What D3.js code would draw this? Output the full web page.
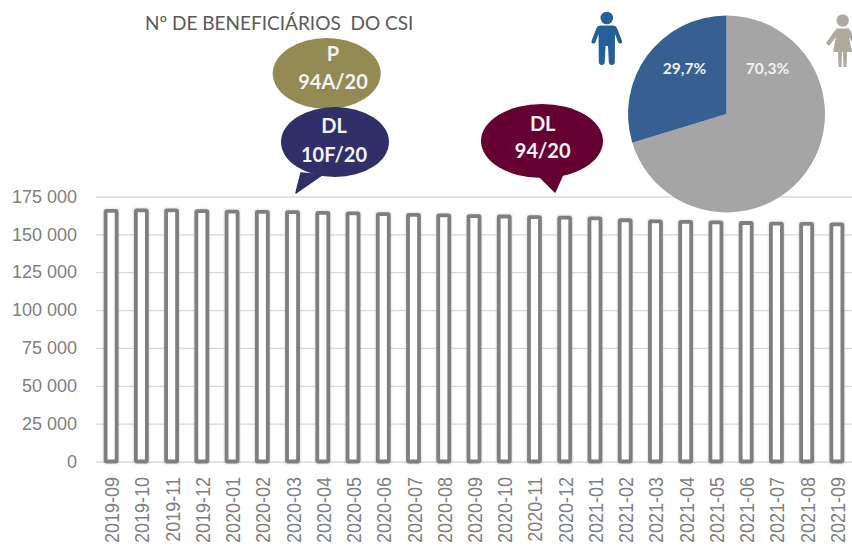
<!DOCTYPE html>
<html><head><meta charset="utf-8">
<script src="https://cdn.jsdelivr.net/npm/d3@7"></script>
<style>html,body{margin:0;padding:0;background:#fff}svg{display:block}</style>
</head><body><svg id="c" width="852" height="551"></svg>
<script>
const months=["2019-09","2019-10","2019-11","2019-12","2020-01","2020-02","2020-03","2020-04","2020-05","2020-06","2020-07","2020-08","2020-09","2020-10","2020-11","2020-12","2021-01","2021-02","2021-03","2021-04","2021-05","2021-06","2021-07","2021-08","2021-09"];
const beneficiaries=[165500,165800,165800,165300,165000,164900,164700,164200,163800,163300,162900,162500,162100,161800,161400,161000,160500,159300,158600,158200,157900,157500,157100,156900,156600];
const yTicks=[0,25000,50000,75000,100000,125000,150000,175000];
const pieLabels=["Mulheres","Homens"];
const pieValues=[70.3,29.7];
const pieText=["70,3%","29,7%"];
const pieColors=["#a5a5a5","#366092"];
const bubbles=[
 {lines:["P","94A/20"],color:"#948a54",cx:326.7,cy:73.5,rx:54,ry:35.5,tx:333,ly:[61,89]},
 {lines:["DL","10F/20"],color:"#302f67",cx:335,cy:142,rx:54,ry:35,tx:334,ly:[133,161.5],tail:[[301,173],[296,193],[322,175]]},
 {lines:["DL","94/20"],color:"#660033",cx:542,cy:141,rx:61,ry:37,tx:542.7,ly:[131,158],tail:[[538,175],[555,192],[563,174]]}
];
const svg=d3.select("#c");
const x=d3.scaleBand().domain(months).range([96,852]).padding(0);
const y=d3.scaleLinear().domain([0,175000]).range([461.5,196.5]);
const fmt=v=>v===0?"0":d3.format(",")(v).replace(/,/g," ");

svg.append("defs").append("filter").attr("id","sh").attr("x","-30%").attr("y","-5%").attr("width","160%").attr("height","110%")
 .append("feGaussianBlur").attr("stdDeviation",1.2);

const ya=d3.axisLeft(y).tickValues(yTicks).tickFormat(fmt).tickSize(-756).tickPadding(19);
const gy=svg.append("g").attr("transform","translate(96,0)").call(ya);
gy.select(".domain").remove();
gy.selectAll("line").attr("stroke","#d9d9d9").attr("stroke-width",1.3);
gy.selectAll("text").attr("font-family","Liberation Sans").attr("font-size",18).attr("fill","#7f7f7f");

const xa=d3.axisBottom(x).tickSize(0);
const gx=svg.append("g").attr("transform","translate(0,461.5)").call(xa);
gx.select(".domain").remove();
gx.selectAll("text").attr("font-family","Liberation Sans").attr("font-size",18).attr("fill","#7f7f7f")
 .attr("text-anchor","end").attr("y",0).attr("dx",0).attr("dy",0)
 .attr("transform","translate(8,15.5) rotate(-90) scale(1,1.1)");

const bw=11;
const bars=d=>d.attr("x",m=>x(m)+x.bandwidth()/2-bw/2).attr("width",bw)
 .attr("y",(m,i)=>y(beneficiaries[i])).attr("height",(m,i)=>y(0)-y(beneficiaries[i]));
svg.append("g").selectAll("rect").data(months).join("rect").call(bars)
 .attr("fill","none").attr("stroke","#7f7f7f").attr("stroke-opacity",.3).attr("stroke-width",4.5).attr("filter","url(#sh)");
svg.append("g").selectAll("rect").data(months).join("rect").call(bars)
 .attr("fill","#fff").attr("stroke","#7f7f7f").attr("stroke-width",3.8).attr("rx",1);

svg.append("text").attr("x",145).attr("y",30).attr("font-family","Lato").attr("font-size",19).attr("fill","#595959").style("white-space","pre").text("Nº DE BENEFICIÁRIOS  DO CSI");

bubbles.forEach(b=>{
 const g=svg.append("g");
 if(b.tail) g.append("path").attr("d",d3.line()(b.tail)+"Z").attr("fill",b.color).attr("stroke",b.color).attr("stroke-linejoin","round").attr("stroke-width",1.5);
 g.append("ellipse").attr("cx",b.cx).attr("cy",b.cy).attr("rx",b.rx).attr("ry",b.ry).attr("fill",b.color);
 b.lines.forEach((t,i)=>g.append("text").attr("x",b.tx).attr("y",b.ly[i]).attr("text-anchor","middle")
  .attr("font-family","Lato").attr("font-weight",700).attr("font-size",20).attr("fill","#f5f5f5").text(t));
});

const pie=d3.pie().sort(null).value(d=>d)(pieValues);
const arc=d3.arc().innerRadius(0).outerRadius(98.5);
const gp=svg.append("g").attr("transform","translate(726.5,114)");
gp.selectAll("path").data(pie).join("path").attr("d",arc).attr("fill",(d,i)=>pieColors[i]);
gp.append("text").attr("x",41).attr("y",-40).attr("text-anchor","middle").attr("font-family","Lato").attr("font-weight",700).attr("font-size",15.5).attr("fill","#f2f2f2").text(pieText[0]);
gp.append("text").attr("x",-42).attr("y",-40).attr("text-anchor","middle").attr("font-family","Lato").attr("font-weight",700).attr("font-size",15.5).attr("fill","#f2f2f2").text(pieText[1]);

// Homem
const man=svg.append("g").attr("fill","#255e98");
man.append("circle").attr("cx",606.8).attr("cy",18).attr("r",6.3);
man.append("path").attr("d","M600 25.5 H613.5 Q616 25.5 617 28 L622 41 Q622.5 43.5 620 43.5 Q618.5 43.5 618 42 L615 34 L614.8 62 Q614.6 65 611.8 65 Q609 65 608.8 62 L608 46 H605.5 L604.8 62 Q604.6 65 601.8 65 Q599 65 598.8 62 L598.5 34 L595.5 42 Q595 43.5 593.5 43.5 Q591 43.5 591.5 41 L596.5 28 Q597.5 25.5 600 25.5 Z");
// Mulher
const woman=svg.append("g").attr("fill","#aeaa9e");
woman.append("circle").attr("cx",842.7).attr("cy",20.5).attr("r",6.2);
woman.append("path").attr("d","M836.5 28.5 H849 L857 41 L854 45 L849 37 L852 52 H847 L846.5 67 H843.5 L843 52 H842 L841.5 67 H838.5 L838 52 H833 L836 37 L829 46 L826 43 Z");
</script></body></html>
